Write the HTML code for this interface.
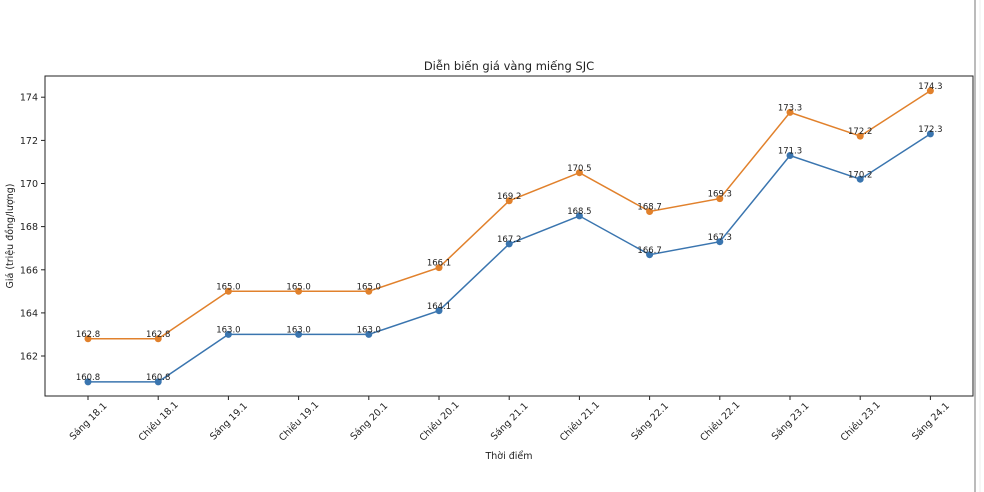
<!DOCTYPE html>
<html><head><meta charset="utf-8"><style>body{margin:0;background:#fff}svg{display:block}text{font-family:"DejaVu Sans","Liberation Sans",sans-serif;fill:#222}</style></head><body>
<svg width="984" height="492" viewBox="0 0 984 492">
<rect width="984" height="492" fill="#fff"/>
<line x1="975" y1="0" x2="975" y2="492" stroke="#bbb" stroke-width="2"/>
<line x1="980" y1="0" x2="980" y2="492" stroke="#eee" stroke-width="1"/>
<text x="509" y="70" font-size="11.5" text-anchor="middle">Diễn biến giá vàng miếng SJC</text>
<g font-size="9.5" text-anchor="end">
<g stroke="#222"><line x1="41" x2="45" y1="356" y2="356"/><line x1="41" x2="45" y1="312.9" y2="312.9"/><line x1="41" x2="45" y1="269.8" y2="269.8"/><line x1="41" x2="45" y1="226.6" y2="226.6"/><line x1="41" x2="45" y1="183.5" y2="183.5"/><line x1="41" x2="45" y1="140.4" y2="140.4"/><line x1="41" x2="45" y1="97.2" y2="97.2"/></g>
<text x="38" y="359.5">162</text><text x="38" y="316.4">164</text><text x="38" y="273.3">166</text><text x="38" y="230.1">168</text><text x="38" y="187">170</text><text x="38" y="143.9">172</text><text x="38" y="100.7">174</text>
</g>
<text transform="translate(13,236) rotate(-90)" font-size="9.5" text-anchor="middle">Giá (triệu đồng/lượng)</text>
<text x="509" y="459" font-size="9.5" text-anchor="middle">Thời điểm</text>
<g stroke="#222">
<line x1="88" x2="88" y1="396" y2="400"/><line x1="158.2" x2="158.2" y1="396" y2="400"/><line x1="228.4" x2="228.4" y1="396" y2="400"/><line x1="298.6" x2="298.6" y1="396" y2="400"/><line x1="368.8" x2="368.8" y1="396" y2="400"/><line x1="439" x2="439" y1="396" y2="400"/><line x1="509.2" x2="509.2" y1="396" y2="400"/><line x1="579.4" x2="579.4" y1="396" y2="400"/><line x1="649.6" x2="649.6" y1="396" y2="400"/><line x1="719.8" x2="719.8" y1="396" y2="400"/><line x1="790" x2="790" y1="396" y2="400"/><line x1="860.2" x2="860.2" y1="396" y2="400"/><line x1="930.4" x2="930.4" y1="396" y2="400"/>
</g>
<g font-size="9.5" text-anchor="middle">
<text transform="translate(88,421) rotate(-45)" dy="0.35em">Sáng 18.1</text>
<text transform="translate(158.2,421) rotate(-45)" dy="0.35em">Chiều 18.1</text>
<text transform="translate(228.4,421) rotate(-45)" dy="0.35em">Sáng 19.1</text>
<text transform="translate(298.6,421) rotate(-45)" dy="0.35em">Chiều 19.1</text>
<text transform="translate(368.8,421) rotate(-45)" dy="0.35em">Sáng 20.1</text>
<text transform="translate(439,421) rotate(-45)" dy="0.35em">Chiều 20.1</text>
<text transform="translate(509.2,421) rotate(-45)" dy="0.35em">Sáng 21.1</text>
<text transform="translate(579.4,421) rotate(-45)" dy="0.35em">Chiều 21.1</text>
<text transform="translate(649.6,421) rotate(-45)" dy="0.35em">Sáng 22.1</text>
<text transform="translate(719.8,421) rotate(-45)" dy="0.35em">Chiều 22.1</text>
<text transform="translate(790,421) rotate(-45)" dy="0.35em">Sáng 23.1</text>
<text transform="translate(860.2,421) rotate(-45)" dy="0.35em">Chiều 23.1</text>
<text transform="translate(930.4,421) rotate(-45)" dy="0.35em">Sáng 24.1</text>
</g>
<polyline fill="none" stroke="#3a75af" stroke-width="1.5" points="88,381.9 158.2,381.9 228.4,334.4 298.6,334.4 368.8,334.4 439,310.7 509.2,243.9 579.4,215.9 649.6,254.7 719.8,241.7 790,155.5 860.2,179.2 930.4,133.9"/>
<polyline fill="none" stroke="#e1812c" stroke-width="1.5" points="88,338.8 158.2,338.8 228.4,291.3 298.6,291.3 368.8,291.3 439,267.6 509.2,200.8 579.4,172.7 649.6,211.5 719.8,198.6 790,112.4 860.2,136.1 930.4,90.8"/>
<g fill="#3a75af"><circle cx="88" cy="381.9" r="3.5"/><circle cx="158.2" cy="381.9" r="3.5"/><circle cx="228.4" cy="334.4" r="3.5"/><circle cx="298.6" cy="334.4" r="3.5"/><circle cx="368.8" cy="334.4" r="3.5"/><circle cx="439" cy="310.7" r="3.5"/><circle cx="509.2" cy="243.9" r="3.5"/><circle cx="579.4" cy="215.9" r="3.5"/><circle cx="649.6" cy="254.7" r="3.5"/><circle cx="719.8" cy="241.7" r="3.5"/><circle cx="790" cy="155.5" r="3.5"/><circle cx="860.2" cy="179.2" r="3.5"/><circle cx="930.4" cy="133.9" r="3.5"/></g>
<g fill="#e1812c"><circle cx="88" cy="338.8" r="3.5"/><circle cx="158.2" cy="338.8" r="3.5"/><circle cx="228.4" cy="291.3" r="3.5"/><circle cx="298.6" cy="291.3" r="3.5"/><circle cx="368.8" cy="291.3" r="3.5"/><circle cx="439" cy="267.6" r="3.5"/><circle cx="509.2" cy="200.8" r="3.5"/><circle cx="579.4" cy="172.7" r="3.5"/><circle cx="649.6" cy="211.5" r="3.5"/><circle cx="719.8" cy="198.6" r="3.5"/><circle cx="790" cy="112.4" r="3.5"/><circle cx="860.2" cy="136.1" r="3.5"/><circle cx="930.4" cy="90.8" r="3.5"/></g>
<g font-size="8.5" text-anchor="middle">
<text x="88" y="380">160.8</text><text x="158.2" y="380">160.8</text><text x="228.4" y="332.5">163.0</text><text x="298.6" y="332.5">163.0</text><text x="368.8" y="332.5">163.0</text><text x="439" y="308.8">164.1</text><text x="509.2" y="242">167.2</text><text x="579.4" y="214">168.5</text><text x="649.6" y="252.8">166.7</text><text x="719.8" y="239.8">167.3</text><text x="790" y="153.6">171.3</text><text x="860.2" y="177.3">170.2</text><text x="930.4" y="132">172.3</text>
<text x="88" y="336.9">162.8</text><text x="158.2" y="336.9">162.8</text><text x="228.4" y="289.4">165.0</text><text x="298.6" y="289.4">165.0</text><text x="368.8" y="289.4">165.0</text><text x="439" y="265.7">166.1</text><text x="509.2" y="198.9">169.2</text><text x="579.4" y="170.8">170.5</text><text x="649.6" y="209.6">168.7</text><text x="719.8" y="196.7">169.3</text><text x="790" y="110.5">173.3</text><text x="860.2" y="134.2">172.2</text><text x="930.4" y="88.9">174.3</text>
</g>
<rect x="45" y="76" width="928" height="320" fill="none" stroke="#222" stroke-width="1"/>
</svg>
</body></html>
